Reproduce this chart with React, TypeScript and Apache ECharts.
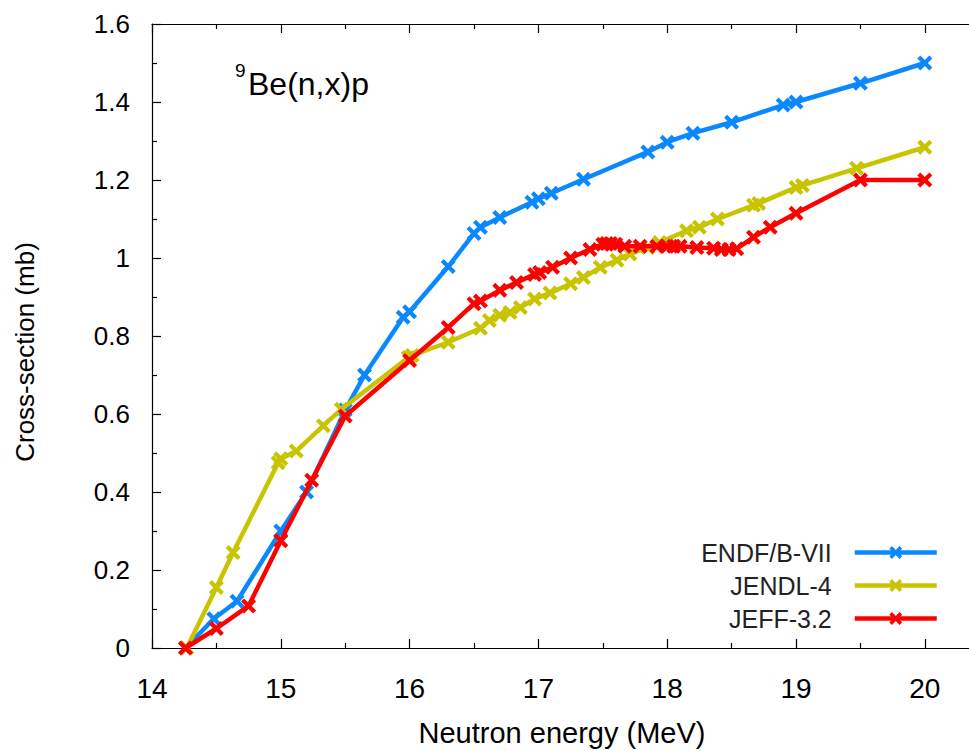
import { useEffect, useRef } from "react";
import * as echarts from "echarts";

// Evaluated cross-sections for 9Be(n,x)p, energies in MeV, values in mb
const endfEnergy = [14.26, 14.48, 14.66, 15.0, 15.2, 15.5, 15.65, 15.95, 16.0, 16.3, 16.5, 16.55, 16.7, 16.95, 17.0, 17.1, 17.35, 17.85, 18.0, 18.2, 18.5, 18.9, 19.0, 19.5, 20.0];
const endfXs = [0, 0.075, 0.12, 0.3, 0.4, 0.61, 0.7, 0.848, 0.862, 0.978, 1.063, 1.079, 1.104, 1.143, 1.152, 1.166, 1.202, 1.272, 1.297, 1.32, 1.348, 1.392, 1.4, 1.448, 1.5];

const jendlEnergy = [14.27, 14.5, 14.63, 14.98, 15.0, 15.12, 15.33, 15.47, 15.99, 16.02, 16.3, 16.55, 16.62, 16.7, 16.78, 16.86, 16.97, 17.09, 17.25, 17.35, 17.48, 17.61, 17.71, 17.85, 17.94, 18.15, 18.25, 18.39, 18.67, 18.71, 19.0, 19.05, 19.47, 20.0];
const jendlXs = [0, 0.155, 0.245, 0.475, 0.485, 0.505, 0.57, 0.612, 0.745, 0.75, 0.784, 0.82, 0.84, 0.853, 0.86, 0.873, 0.895, 0.91, 0.934, 0.95, 0.976, 0.994, 1.01, 1.027, 1.04, 1.07, 1.079, 1.1, 1.135, 1.14, 1.181, 1.186, 1.23, 1.284];

const jeffEnergy = [14.26, 14.5, 14.75, 15.0, 15.24, 15.5, 16.0, 16.3, 16.5, 16.55, 16.7, 16.83, 16.97, 17.01, 17.11, 17.25, 17.4, 17.5, 17.53, 17.56, 17.6, 17.67, 17.79, 17.92, 18.0, 18.05, 18.1, 18.23, 18.36, 18.42, 18.48, 18.54, 18.67, 18.8, 19.0, 19.5, 20.0];
const jeffXs = [0, 0.05, 0.108, 0.275, 0.43, 0.595, 0.737, 0.822, 0.883, 0.89, 0.917, 0.937, 0.958, 0.963, 0.976, 1.0, 1.022, 1.035, 1.037, 1.037, 1.035, 1.03, 1.03, 1.03, 1.03, 1.03, 1.03, 1.027, 1.025, 1.022, 1.022, 1.024, 1.053, 1.079, 1.115, 1.2, 1.2];

const libraryNames = ["ENDF/B-VII", "JENDL-4", "JEFF-3.2"];
const libraryColors = ["#0a88ff", "#c8c400", "#ff0000"];

const FONT = "'Liberation Sans', Arial, Helvetica, sans-serif";
// thick "x" point marker
const CROSS = "path://M0,2 L2,0 L5,3 L8,0 L10,2 L7,5 L10,8 L8,10 L5,7 L2,10 L0,8 L3,5 Z";

const zip = (xs: number[], ys: number[]) => xs.map((x, i) => [x, ys[i]]);

const CHART_W = 1080;
const CHART_H = 751;

export default function App() {
  const ref = useRef<HTMLDivElement>(null);

  useEffect(() => {
    if (!ref.current) return;
    const chart = echarts.init(ref.current, null, { renderer: "svg" });
    const seriesData = [zip(endfEnergy, endfXs), zip(jendlEnergy, jendlXs), zip(jeffEnergy, jeffXs)];

    const xAxisBase = {
      type: "value" as const,
      min: 14,
      max: 21,
      interval: 1,
      axisLine: { show: true, onZero: false, lineStyle: { color: "#000", width: 1.2 } },
      axisTick: { show: true, inside: true, length: 9, lineStyle: { color: "#000", width: 1.2 } },
      minorTick: { show: true, splitNumber: 2, length: 5, lineStyle: { color: "#000", width: 1.2 } },
      splitLine: { show: false },
      minorSplitLine: { show: false },
    };

    chart.setOption({
      animation: false,
      backgroundColor: "#fff",
      grid: { left: 152, top: 24, right: CHART_W - 152 - 7 * 128.8, bottom: CHART_H - 648, containLabel: false },
      xAxis: [
        {
          ...xAxisBase,
          position: "bottom",
          axisLabel: {
            color: "#000",
            fontFamily: FONT,
            fontSize: 28,
            margin: 26,
            formatter: (v: number) => (v > 20 ? "" : String(v)),
          },
        },
        {
          ...xAxisBase,
          position: "top",
          axisLabel: { show: false },
        },
      ],
      yAxis: {
        type: "value",
        min: 0,
        max: 1.6,
        interval: 0.2,
        axisLine: { show: true, onZero: false, lineStyle: { color: "#000", width: 1.2 } },
        axisTick: { show: true, inside: true, length: 9, lineStyle: { color: "#000", width: 1.2 } },
        minorTick: { show: true, splitNumber: 2, length: 5, lineStyle: { color: "#000", width: 1.2 } },
        splitLine: { show: false },
        axisLabel: {
          color: "#000",
          fontFamily: FONT,
          fontSize: 26,
          margin: 22,
          formatter: (v: number) => String(+v.toFixed(1)),
        },
      },
      legend: {
        orient: "vertical",
        align: "right",
        right: CHART_W - 944,
        top: 535,
        itemWidth: 82,
        itemHeight: 16,
        itemGap: 8,
        lineStyle: { width: 4.5 },
        textStyle: { color: "#222", fontFamily: FONT, fontSize: 25, padding: [0, 18, 0, 0] },
        data: libraryNames,
      },
      series: libraryNames.map((name, i) => ({
        name,
        type: "line",
        xAxisIndex: 0,
        data: seriesData[i],
        symbol: CROSS,
        symbolSize: 15,
        showAllSymbol: true,
        lineStyle: { color: libraryColors[i], width: 4.5 },
        itemStyle: { color: libraryColors[i] },
        z: 2 + i,
      })),
      graphic: [
        {
          type: "text",
          x: 25,
          y: 352,
          rotation: Math.PI / 2,
          style: {
            text: "Cross-section (mb)",
            fill: "#000",
            font: `26px ${FONT}`,
            align: "center",
            verticalAlign: "middle",
          },
        },
        {
          type: "text",
          x: 562,
          y: 733,
          style: {
            text: "Neutron energy (MeV)",
            fill: "#000",
            font: `29px ${FONT}`,
            align: "center",
            verticalAlign: "middle",
          },
        },
        {
          type: "text",
          x: 235,
          y: 70,
          style: {
            text: "9",
            fill: "#000",
            font: `19px ${FONT}`,
            align: "left",
            verticalAlign: "middle",
          },
        },
        {
          type: "text",
          x: 248,
          y: 84,
          style: {
            text: "Be(n,x)p",
            fill: "#000",
            font: `32px ${FONT}`,
            align: "left",
            verticalAlign: "middle",
          },
        },
      ],
    });

    return () => chart.dispose();
  }, []);

  return (
    <div style={{ position: "fixed", left: 0, top: 0, width: 969, height: 751, overflow: "hidden", background: "#fff" }}>
      <div ref={ref} style={{ width: CHART_W, height: CHART_H }} />
    </div>
  );
}
